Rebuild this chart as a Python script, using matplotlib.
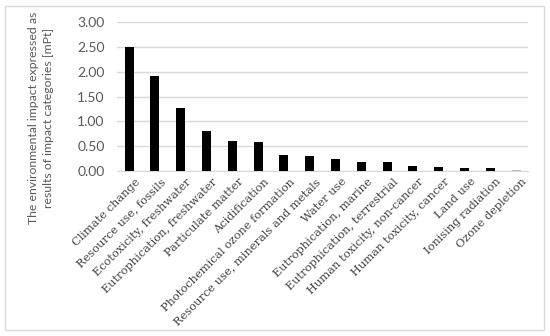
import matplotlib
matplotlib.use("Agg")
import matplotlib.pyplot as plt
from matplotlib.patches import Rectangle
from matplotlib.transforms import ScaledTranslation

categories = ["Climate change", "Resource use, fossils", "Ecotoxicity, freshwater",
              "Eutrophication, freshwater", "Particulate matter", "Acidification",
              "Photochemical ozone formation", "Resource use, minerals and metals",
              "Water use", "Eutrophication, marine", "Eutrophication, terrestrial",
              "Human toxicity, non-cancer", "Human toxicity, cancer", "Land use",
              "Ionising radiation", "Ozone depletion"]
values = [2.49, 1.92, 1.26, 0.80, 0.61, 0.58, 0.32, 0.31, 0.24, 0.18, 0.18,
          0.10, 0.075, 0.07, 0.065, 0.02]
bar_colors = ["black"] * 15 + ["#bfbfbf"]
yticks = [0.0, 0.5, 1.0, 1.5, 2.0, 2.5, 3.0]

W, H = 550, 336
fig = plt.figure(figsize=(W / 100, H / 100), dpi=100)
ax = fig.add_axes([117 / W, 1 - 171 / H, (528 - 117) / W, (171 - 22) / H])

x = range(len(categories))
ax.bar(x, values, width=0.35, color=bar_colors, zorder=3)

ax.set_ylim(0, 3.0)
ax.set_xlim(-0.47, 15.46)
ax.set_yticks(yticks)
ax.set_yticklabels([f"{v:.2f}" for v in yticks], fontfamily="Lato", fontsize=10, color="#595959")
ax.yaxis.grid(True, color="#d9d9d9", linewidth=1, zorder=0)
ax.tick_params(axis="y", length=0, pad=9)
for s in ["top", "right", "left"]:
    ax.spines[s].set_visible(False)
ax.spines["bottom"].set_color("#d9d9d9")

ax.set_xticks(list(x))
ax.set_xticklabels(categories, rotation=45, ha="right", va="top", rotation_mode="anchor",
                   fontfamily="DejaVu Serif", fontsize=8.2, color="#404040")
ax.tick_params(axis="x", length=0, pad=4)
offset = ScaledTranslation(4 / 72, 0, fig.dpi_scale_trans)
for lbl in ax.get_xticklabels():
    lbl.set_transform(lbl.get_transform() + offset)

fig.text(41 / W, 1 - 118 / H,
         "The environmental impact expressed as\nresults of impact categories [mPt]",
         rotation=90, ha="center", va="center", fontfamily="Lato", fontsize=8.8,
         color="#595959", linespacing=1.35)

fig.patches.append(Rectangle((5 / W, 6 / H), 539 / W, 324 / H, transform=fig.transFigure,
                             fill=False, edgecolor="#d9d9d9", linewidth=1))

fig.savefig("out.png", dpi=100)
